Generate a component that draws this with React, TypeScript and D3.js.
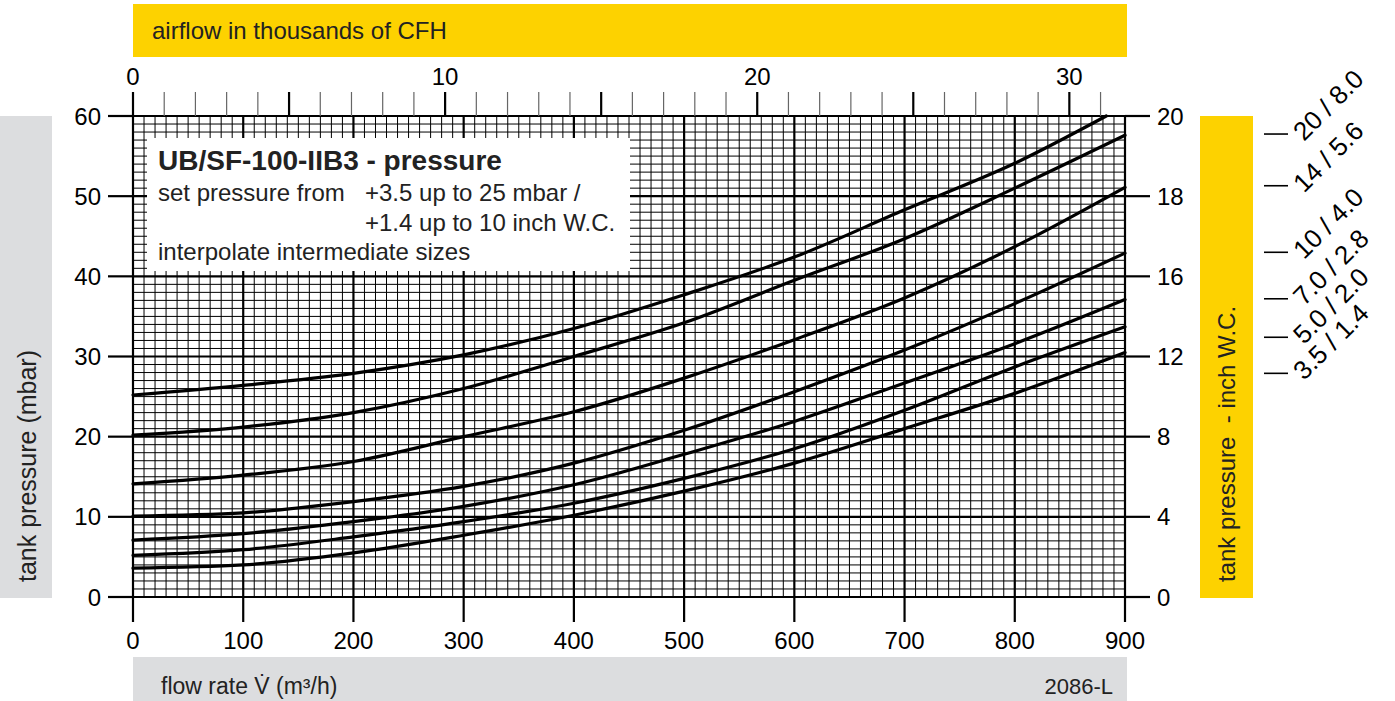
import React, { useRef, useEffect } from "react";
import * as d3 from "d3";

// flow rate (m3/h) sample points
const flowRate = [0, 100, 200, 300, 400, 500, 600, 700, 800, 900];
const flowRate25 = [0, 100, 200, 300, 400, 500, 600, 700, 800, 883];

// tank pressure (mbar) per set pressure curve
const p25 = [25.2, 26.4, 27.9, 30.2, 33.5, 37.7, 42.4, 48.3, 54.1, 60];
const p20 = [20.2, 21.2, 23.0, 26.0, 30.0, 34.2, 39.5, 44.7, 51.0, 57.6];
const p14 = [14.1, 15.2, 16.9, 20.0, 23.1, 27.3, 32.1, 37.3, 43.7, 51.1];
const p10 = [10.1, 10.5, 11.9, 13.8, 16.7, 20.8, 25.6, 30.8, 36.6, 42.9];
const p7 = [7.1, 7.9, 9.4, 11.3, 14.0, 17.8, 21.9, 26.7, 31.6, 37.1];
const p5 = [5.2, 5.9, 7.5, 9.4, 11.7, 14.8, 18.5, 23.3, 28.7, 33.7];
const p35 = [3.6, 4.0, 5.5, 7.7, 10.2, 13.2, 16.7, 21.0, 25.4, 30.5];

const mbarTicks = [0, 10, 20, 30, 40, 50, 60];
const inchTickLabels = ["0", "4", "8", "12", "16", "18", "20"];
const flowTicks = [0, 100, 200, 300, 400, 500, 600, 700, 800, 900];
const cfhLabels = [0, 10, 20, 30];

// size labels at the right edge and the pressure they sit at
const endLabels = ["20 / 8.0", "14 / 5.6", "10 / 4.0", "7.0 / 2.8", "5.0 / 2.0", "3.5 / 1.4"];
const endLabelPressure = [57.75, 51.3, 43.0, 37.2, 32.4, 27.9];

const YELLOW = "#FDD200";
const GREY = "#DCDDDF";
const FONT = "'Liberation Sans', Arial, sans-serif";
const M3H_TO_CFH = 35.3147;

const App = () => {
	const chart_svg = useRef(null);
	const width = 1395;
	const height = 701;

	useEffect(() => {
		const svg = d3.select(chart_svg.current);
		svg.selectChildren().remove();

		const x_scale = d3.scaleLinear().domain([0, 900]).range([133, 1125]);
		const y_scale = d3.scaleLinear().domain([0, 60]).range([597, 116]);
		const [x0, x1] = x_scale.range();
		const [y0, y1] = y_scale.range();

		// coloured bands
		svg.append("rect").attr("x", 133).attr("y", 4).attr("width", 994).attr("height", 53).attr("fill", YELLOW);
		svg.append("rect").attr("x", 0).attr("y", 116).attr("width", 52).attr("height", 482).attr("fill", GREY);
		svg.append("rect").attr("x", 1200).attr("y", 116).attr("width", 53).attr("height", 482).attr("fill", YELLOW);
		svg.append("rect").attr("x", 133).attr("y", 657).attr("width", 994).attr("height", 44).attr("fill", GREY);

		// grid
		const grid = svg.append("g").classed("grid", true);
		for (let f = 0; f <= 900; f += 10) {
			const major = f % 100 === 0;
			grid.append("line")
				.attr("x1", x_scale(f)).attr("x2", x_scale(f))
				.attr("y1", y1).attr("y2", y0)
				.attr("stroke", "#000")
				.attr("stroke-width", major ? 2.2 : 1);
		}
		for (let p = 0; p <= 60; p += 1) {
			const major = p % 10 === 0;
			grid.append("line")
				.attr("x1", x0).attr("x2", x1)
				.attr("y1", y_scale(p)).attr("y2", y_scale(p))
				.attr("stroke", "#000")
				.attr("stroke-width", major ? 2.2 : 1);
		}

		// left / right / bottom ticks
		mbarTicks.forEach((t, i) => {
			svg.append("line").attr("x1", 108).attr("x2", x0)
				.attr("y1", y_scale(t)).attr("y2", y_scale(t))
				.attr("stroke", "#000").attr("stroke-width", 2.2);
			svg.append("line").attr("x1", x1).attr("x2", 1150)
				.attr("y1", y_scale(t)).attr("y2", y_scale(t))
				.attr("stroke", "#000").attr("stroke-width", 2.2);
			svg.append("text").attr("x", 101).attr("y", y_scale(t) + 8.5)
				.attr("text-anchor", "end").style("font-size", "24px").text(t);
			svg.append("text").attr("x", 1157).attr("y", y_scale(t) + 8.5)
				.attr("text-anchor", "start").style("font-size", "24px").text(inchTickLabels[i]);
		});
		flowTicks.forEach(t => {
			svg.append("line").attr("x1", x_scale(t)).attr("x2", x_scale(t))
				.attr("y1", y0).attr("y2", 622)
				.attr("stroke", "#000").attr("stroke-width", 2.2);
			svg.append("text").attr("x", x_scale(t)).attr("y", 649)
				.attr("text-anchor", "middle").style("font-size", "24px").text(t);
		});

		// top axis, thousands of CFH
		const cfh_scale = (k) => x_scale(k * 1000 / M3H_TO_CFH);
		svg.append("line").attr("x1", x0).attr("x2", x1).attr("y1", y1).attr("y2", y1)
			.attr("stroke", "#000").attr("stroke-width", 2.2);
		for (let k = 0; k <= 31; k++) {
			const major = k % 5 === 0;
			svg.append("line").attr("x1", cfh_scale(k)).attr("x2", cfh_scale(k))
				.attr("y1", 92).attr("y2", y1)
				.attr("stroke", major ? "#000" : "#666")
				.attr("stroke-width", major ? 2.2 : 1.2);
		}
		cfhLabels.forEach(k => {
			svg.append("text").attr("x", cfh_scale(k)).attr("y", 85)
				.attr("text-anchor", "middle").style("font-size", "24px").text(k);
		});

		// legend box
		svg.append("rect").attr("x", 147).attr("y", 138).attr("width", 483).attr("height", 133).attr("fill", "#fff");
		svg.append("text").attr("x", 158).attr("y", 170).style("font-size", "28px").style("font-weight", "bold")
			.attr("fill", "#222").text("UB/SF-100-IIB3 - pressure");
		svg.append("text").attr("x", 158).attr("y", 201).style("font-size", "24px").attr("fill", "#222").text("set pressure from");
		svg.append("text").attr("x", 365).attr("y", 201).style("font-size", "24px").attr("fill", "#222").text("+3.5 up to 25 mbar /");
		svg.append("text").attr("x", 365).attr("y", 231).style("font-size", "24px").attr("fill", "#222").text("+1.4 up to 10 inch W.C.");
		svg.append("text").attr("x", 158).attr("y", 260).style("font-size", "24px").attr("fill", "#222").text("interpolate intermediate sizes");

		// curves
		const line = d3.line()
			.x(d => x_scale(d[0]))
			.y(d => y_scale(d[1]))
			.curve(d3.curveMonotoneX);
		const series = [
			flowRate25.map((f, i) => [f, p25[i]]),
			flowRate.map((f, i) => [f, p20[i]]),
			flowRate.map((f, i) => [f, p14[i]]),
			flowRate.map((f, i) => [f, p10[i]]),
			flowRate.map((f, i) => [f, p7[i]]),
			flowRate.map((f, i) => [f, p5[i]]),
			flowRate.map((f, i) => [f, p35[i]]),
		];
		series.forEach(s => {
			svg.append("path").datum(s)
				.attr("fill", "none").attr("stroke", "#000")
				.attr("stroke-width", 3.2).attr("stroke-linecap", "round")
				.attr("d", line);
		});

		// size labels at right
		endLabels.forEach((lab, i) => {
			const yy = y_scale(endLabelPressure[i]);
			svg.append("line").attr("x1", 1264).attr("x2", 1288).attr("y1", yy).attr("y2", yy)
				.attr("stroke", "#000").attr("stroke-width", 1.6);
			svg.append("text")
				.attr("transform", `translate(1304, ${yy + 8}) rotate(-45)`)
				.style("font-size", "26px").style("white-space", "pre")
				.text(lab);
		});

		// axis titles
		svg.append("text").attr("x", 152).attr("y", 39).style("font-size", "24px").attr("fill", "#222")
			.text("airflow in thousands of CFH");
		svg.append("text").attr("transform", "translate(36, 582) rotate(-90)")
			.style("font-size", "25px").attr("fill", "#222").text("tank pressure (mbar)");
		svg.append("text").attr("transform", "translate(1235, 582) rotate(-90)")
			.style("font-size", "24px").style("white-space", "pre").attr("fill", "#222")
			.text("tank pressure  - inch W.C.");
		svg.append("text").attr("x", 161).attr("y", 694).style("font-size", "23px").attr("fill", "#222")
			.text("flow rate V\u0307 (m\u00B3/h)");
		svg.append("text").attr("x", 1113).attr("y", 694).attr("text-anchor", "end")
			.style("font-size", "22px").attr("fill", "#222").text("2086-L");
	});

	return (
		<div style={{ position: "absolute", left: 0, top: 0 }}>
			<svg ref={chart_svg} width={width} height={height}
				style={{ display: "block", fontFamily: FONT, background: "#fff" }}>
			</svg>
		</div>
	);
};

export default App;
